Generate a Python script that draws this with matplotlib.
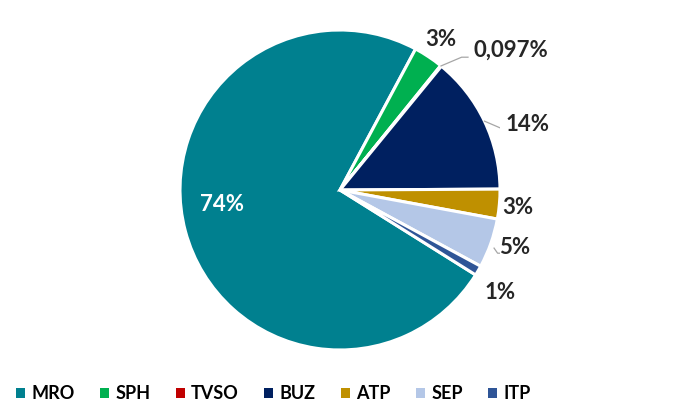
import numpy as np
import matplotlib.pyplot as plt
from matplotlib.patches import Patch

plt.rcParams['font.family'] = ['Lato', 'DejaVu Sans']

# data
names = ['MRO', 'SPH', 'TVSO', 'BUZ', 'ATP', 'SEP', 'ITP']
shares = [74, 3, 0.097, 14, 3, 5, 1]
labels = ['74%', '3%', '0,097%', '14%', '3%', '5%', '1%']
colors = ['#00808F', '#00B050', '#C00000', '#002060', '#BF9000', '#B4C7E7', '#2F5597']

# label layout (axes data coords)
label_xy = [(-0.74, -0.09), (0.63, 0.94), (1.07, 0.875), (1.17, 0.41),
            (1.11, -0.11), (1.09, -0.36), (1.0, -0.64)]

fig = plt.figure(figsize=(6.98, 4.07), dpi=100)
ax = fig.add_axes([180 / 698, 57 / 407, 320 / 698, 320 / 407])

wedges, _ = ax.pie(shares, colors=colors, startangle=-32.05, counterclock=False,
                   radius=1.0, wedgeprops=dict(edgecolor='white', linewidth=2.2))

for i, (w, lab, (tx, ty)) in enumerate(zip(wedges, labels, label_xy)):
    col = 'white' if i == 0 else '#262626'
    ax.text(tx, ty, lab, ha='center', va='center', fontsize=16,
            fontweight='bold', color=col)

# leader lines
def edge_point(w, r=1.0):
    a = np.deg2rad((w.theta1 + w.theta2) / 2)
    return r * np.cos(a), r * np.sin(a)

line_kw = dict(color='#A6A6A6', linewidth=0.9)
x0, y0 = edge_point(wedges[2])
ax.plot([x0, 0.76, 0.80], [y0, 0.83, 0.83], **line_kw)
x0, y0 = edge_point(wedges[3])
ax.plot([x0, 1.02, 1.05], [y0, 0.38, 0.38], **line_kw)
x0, y0 = edge_point(wedges[5], 1.0)
ax.plot([x0 + 0.02, 0.985, 1.01], [y0 - 0.03, -0.395, -0.395], **line_kw)

ax.set_xlim(-1, 1)
ax.set_ylim(-1, 1)
ax.set_aspect('equal')
ax.axis('off')

handles = [Patch(facecolor=c, edgecolor='none') for c in colors]
fig.legend(handles, names, loc='center left', bbox_to_anchor=(0.0, 0.032),
           ncol=7, frameon=False, handlelength=0.5, handleheight=0.5,
           handletextpad=0.35, columnspacing=1.4,
           prop=dict(family='Lato', weight='bold', size=13))

fig.savefig('out.png', dpi=100)
